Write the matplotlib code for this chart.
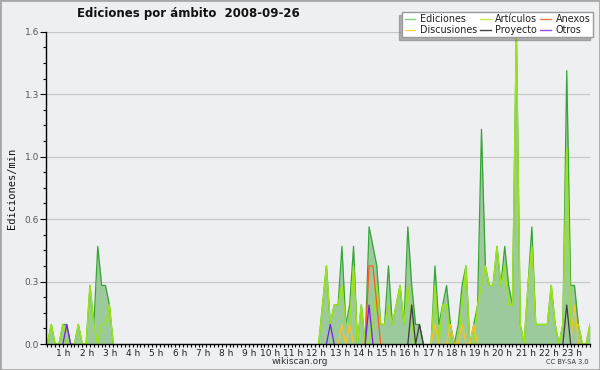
import numpy as np
import matplotlib
matplotlib.use('Agg')
import matplotlib.pyplot as plt
from matplotlib.patches import Rectangle
from matplotlib.lines import Line2D

# Minutos desde las 00:00, un punto cada 10 min (00:00 -> 23:20)
minutos = np.arange(0, 1410, 10)

# Ediciones/min (una fila por hora)
ediciones = [
    0, 0.1, 0, 0, 0.1, 0.1,
    0, 0, 0.1, 0, 0, 0.3,
    0.1, 0.5, 0.3, 0.3, 0.2, 0,
    0, 0, 0, 0, 0, 0,
    0, 0, 0, 0, 0, 0,
    0, 0, 0, 0, 0, 0,
    0, 0, 0, 0, 0, 0,
    0, 0, 0, 0, 0, 0,
    0, 0, 0, 0, 0, 0,
    0, 0, 0, 0, 0, 0,
    0, 0, 0, 0, 0, 0,
    0, 0, 0, 0, 0, 0.2,
    0.4, 0.1, 0.2, 0.2, 0.5, 0.1,
    0.2, 0.5, 0, 0.2, 0, 0.6,
    0.5, 0.4, 0.1, 0.1, 0.4, 0.1,
    0.2, 0.3, 0.1, 0.6, 0.3, 0.1,
    0.1, 0, 0, 0, 0.4, 0.1,
    0.2, 0.3, 0.1, 0, 0.1, 0.3,
    0.4, 0, 0.1, 0.2, 1.1, 0.4,
    0.3, 0.3, 0.5, 0.3, 0.5, 0.3,
    0.2, 1.6, 0.1, 0, 0.3, 0.6,
    0.1, 0.1, 0.1, 0.1, 0.3, 0.1,
    0, 0.1, 1.4, 0.3, 0.3, 0.1,
    0, 0, 0.1,
]

articulos = [
    0, 0.1, 0, 0, 0.1, 0,
    0, 0, 0.1, 0, 0, 0.3,
    0.1, 0, 0.1, 0.1, 0.2, 0,
    0, 0, 0, 0, 0, 0,
    0, 0, 0, 0, 0, 0,
    0, 0, 0, 0, 0, 0,
    0, 0, 0, 0, 0, 0,
    0, 0, 0, 0, 0, 0,
    0, 0, 0, 0, 0, 0,
    0, 0, 0, 0, 0, 0,
    0, 0, 0, 0, 0, 0,
    0, 0, 0, 0, 0, 0.2,
    0.4, 0.1, 0.2, 0.2, 0.3, 0.1,
    0.1, 0.4, 0, 0.2, 0, 0,
    0.1, 0.3, 0.1, 0.1, 0.2, 0.1,
    0.2, 0.3, 0.1, 0.3, 0.1, 0,
    0, 0, 0, 0, 0.3, 0,
    0.2, 0.2, 0, 0, 0, 0.2,
    0.4, 0, 0, 0.2, 0.3, 0.4,
    0.3, 0.3, 0.5, 0.3, 0.4, 0.2,
    0.2, 1.6, 0.1, 0, 0.3, 0.5,
    0.1, 0.1, 0.1, 0.1, 0.3, 0.1,
    0, 0.1, 1.0, 0.1, 0.1, 0.1,
    0, 0, 0.1,
]

# Series con pocos valores: (minuto, ediciones/min)
discusiones_t = [760, 780, 1000, 1040, 1070, 1100, 1360]
discusiones_v = [0.1, 0.1, 0.1, 0.1, 0.1, 0.1, 0.2]
anexos_t = [830, 840, 850]
anexos_v = [0.4, 0.4, 0.2]
proyecto_t = [940, 960, 1340]
proyecto_v = [0.2, 0.1, 0.2]
otros_t = [50, 730, 830]
otros_v = [0.1, 0.1, 0.2]


def serie(t, v):
    s = np.zeros(len(minutos))
    for ti, vi in zip(t, v):
        s[minutos == ti] = vi
    return s


def sin_ceros(v):
    # oculta los tramos planos en cero para que no tapen el eje
    v = np.asarray(v, float)
    prev = np.r_[0, v[:-1]]
    nxt = np.r_[v[1:], 0]
    return np.where((v == 0) & (prev == 0) & (nxt == 0), np.nan, v)


def main():
    bg = '#eeeff1'
    fig = plt.figure(figsize=(6, 3.7), dpi=100, facecolor=bg)
    ax = fig.add_axes([46 / 600, 26 / 370, 544 / 600, 312.3 / 370])
    ax.set_facecolor(bg)

    ax.fill_between(minutos, ediciones, 0, color='#9dca9c', lw=0, zorder=1)
    ax.plot(minutos, sin_ceros(ediciones), color='#35a535', lw=0.9, zorder=3)
    ax.plot(minutos, sin_ceros(articulos), color='#9be31a', lw=1.1, zorder=4)
    ax.plot(minutos, sin_ceros(serie(discusiones_t, discusiones_v)), color='#ffc21a', lw=0.9, zorder=5)
    ax.plot(minutos, sin_ceros(serie(anexos_t, anexos_v)), color='#ff5a1a', lw=0.9, zorder=5)
    ax.plot(minutos, sin_ceros(serie(proyecto_t, proyecto_v)), color='#3c3c3c', lw=0.9, zorder=5)
    ax.plot(minutos, sin_ceros(serie(otros_t, otros_v)), color='#7a1fe0', lw=0.9, zorder=5)

    ax.set_xlim(-3.5, 1400)
    ax.set_ylim(0, 1.6)

    # ejes
    for s in ['top', 'right']:
        ax.spines[s].set_visible(False)
    for s in ['left', 'bottom']:
        ax.spines[s].set_color('black')
        ax.spines[s].set_linewidth(1.0)
        ax.spines[s].set_zorder(6)

    yt = np.linspace(0, 1.6, 6)
    ax.set_yticks(yt)
    ax.set_yticklabels(['%.1f' % v for v in yt])
    ax.set_yticks(np.linspace(0, 1.6, 21), minor=True)
    ax.tick_params(axis='y', which='major', length=4, width=0.8, labelsize=6.5,
                   labelcolor='#555555', pad=1)
    ax.tick_params(axis='y', which='minor', length=2, width=0.8)
    ax.yaxis.grid(True, color='#c8c8c8', lw=0.9)
    ax.set_axisbelow(True)

    ax.set_xticks(np.arange(0, 1401, 10))
    ax.set_xticklabels(['%d h' % (m // 60) if m % 60 == 0 and m > 0 else ''
                        for m in np.arange(0, 1401, 10)])
    for lab in ax.get_xticklabels():
        lab.set_horizontalalignment('right')
    ax.tick_params(axis='x', length=2.5, width=0.8, labelsize=6.5, labelcolor='#222222', pad=1)

    fig.text(188 / 600, 1 - 14 / 370, 'Ediciones por ámbito  2008-09-26',
             ha='center', va='center', fontsize=8.5, fontweight='bold', color='#111111')
    fig.text(12 / 600, 1 - 188 / 370, 'Ediciones/min', rotation=90, ha='center',
             va='center', fontsize=7.5, family='DejaVu Sans Mono', color='#111111')
    fig.text(300 / 600, 1 - 361 / 370, 'wikiscan.org', ha='center', va='center',
             fontsize=6.5, color='#333333')
    fig.text(589 / 600, 1 - 362 / 370, 'CC BY-SA 3.0', ha='right', va='center',
             fontsize=4.8, color='#333333')

    handles = [
        Line2D([], [], color='#7fd47f', lw=1),
        Line2D([], [], color='#ffd24d', lw=1),
        Line2D([], [], color='#c2ec4a', lw=1),
        Line2D([], [], color='#444444', lw=1),
        Line2D([], [], color='#ff7f4a', lw=1),
        Line2D([], [], color='#9050e8', lw=1),
    ]
    labels = ['Ediciones', 'Discusiones', 'Artículos', 'Proyecto', 'Anexos', 'Otros']
    leg = fig.legend(handles, labels, ncol=3, loc='upper right',
                     bbox_to_anchor=(593 / 600, 1 - 12 / 370), fontsize=6.9,
                     frameon=True, fancybox=False, edgecolor='#9a9a9a', facecolor='white',
                     framealpha=1, handlelength=1.1, handletextpad=0.5, columnspacing=0.3,
                     labelspacing=0.05, borderpad=0.25, borderaxespad=0,
                     shadow={'ox': -2, 'oy': -2, 'shade': 0.55})
    for t in leg.get_texts():
        t.set_color('#222222')

    fig.patches.append(Rectangle((0, 0), 1, 1, transform=fig.transFigure, fill=False,
                                 edgecolor='#a8a8a8', lw=2))

    fig.savefig('out.png', dpi=100, facecolor=bg)


if __name__ == '__main__':
    main()
